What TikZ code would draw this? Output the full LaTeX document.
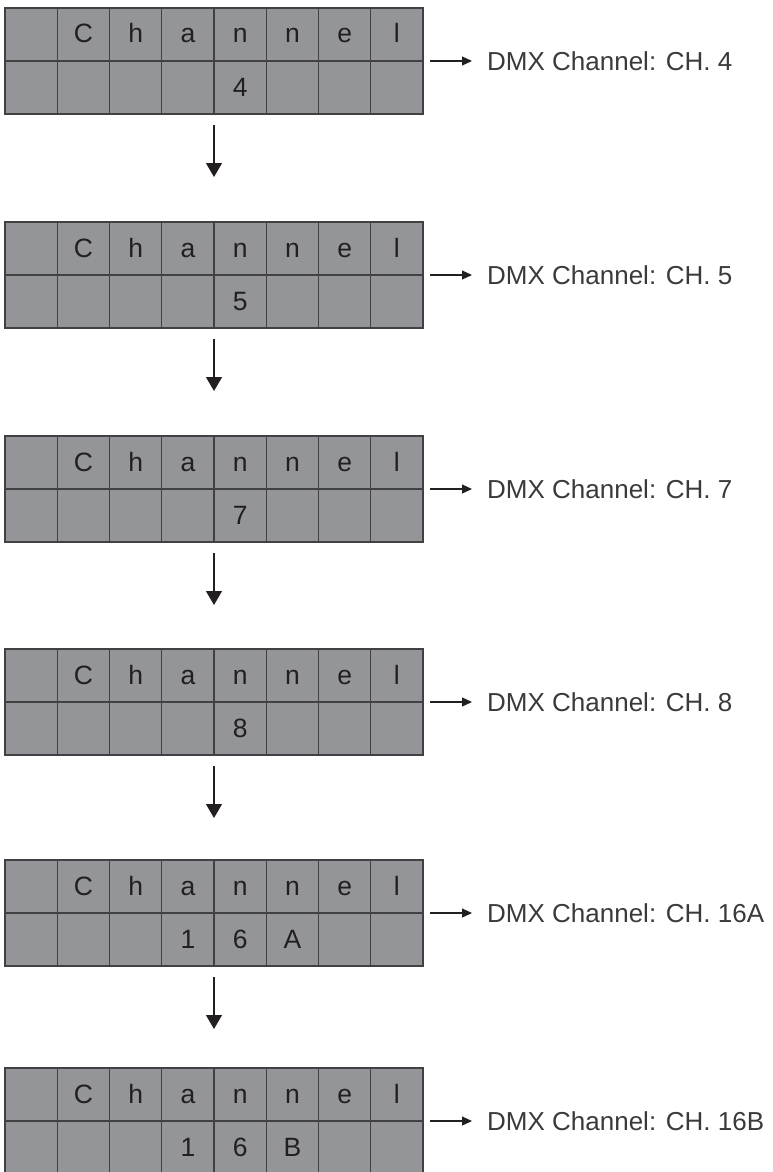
\documentclass[tikz,border=0pt]{standalone}
\usepackage{fontspec}
\setmainfont{Liberation Sans}
\usetikzlibrary{arrows.meta}
\definecolor{cellgray}{HTML}{939598}
\definecolor{edge}{HTML}{414042}
\definecolor{ink}{HTML}{231F20}
\definecolor{labink}{HTML}{3A3A3B}
\tikzset{
  gridbox/.style={draw=edge, fill=cellgray, line width=1.3pt, minimum width=418pt, minimum height=106pt, inner sep=0pt, outer sep=0pt},
  gridline/.style={draw=edge, line width=1.3pt},
  cellchar/.style={inner sep=0pt, text=ink, font=\fontsize{26.5}{30}\selectfont, anchor=base},
  lab/.style={inner sep=0pt, text=labink, font=\fontsize{26}{30}\selectfont, anchor=west},
  varrow/.style={draw=ink, line width=1.2pt, -{Triangle[width=16pt,length=14pt]}, shorten <=11pt},
  harrow/.style={draw=ink, line width=1.2pt, -{Triangle[width=9pt,length=10pt]}, shorten <=7pt, shorten >=15pt}
}
\begin{document}
\begin{tikzpicture}[x=1pt,y=-1pt]
\useasboundingbox (0,0) rectangle (772,1172);
\def\cw{52.25}
\foreach \k/\t/\la/\lb/\lc/\lab in {1/8/{}/4/{}/4, 2/222/{}/5/{}/5, 3/436/{}/7/{}/7, 4/649/{}/8/{}/8, 5/860/1/6/A/16A, 6/1068/1/6/B/16B}{
  \node[gridbox, anchor=north west] (g\k) at (5,\t) {};
  \foreach \i in {1,...,7} \draw[gridline] (5+\i*\cw, \t) -- (5+\i*\cw, \t+106);
  \draw[gridline] (5,\t+53) -- (423,\t+53);
  \foreach \ch [count=\i from 2] in {C,h,a,n,n,e,l}
    \node[cellchar] (c\k-\i) at (5+\i*\cw-0.5*\cw, \t+35) {\ch};
  \node[cellchar] (d\k-4) at (5+3.5*\cw, \t+88) {\la};
  \node[cellchar] (d\k-5) at (5+4.5*\cw, \t+88) {\lb};
  \node[cellchar] (d\k-6) at (5+5.5*\cw, \t+88) {\lc};
  \node[lab] (l\k) at (487,\t+53) {DMX Channel: CH. \lab};
  \draw[harrow] (g\k.east) -- (l\k.west);
}
\foreach \k/\n/\s in {1/2/45, 2/3/45, 3/4/44, 4/5/42, 5/6/39}
  \draw[varrow, shorten >=\s pt] (g\k.south) -- (g\n.north);
\end{tikzpicture}
\end{document}
